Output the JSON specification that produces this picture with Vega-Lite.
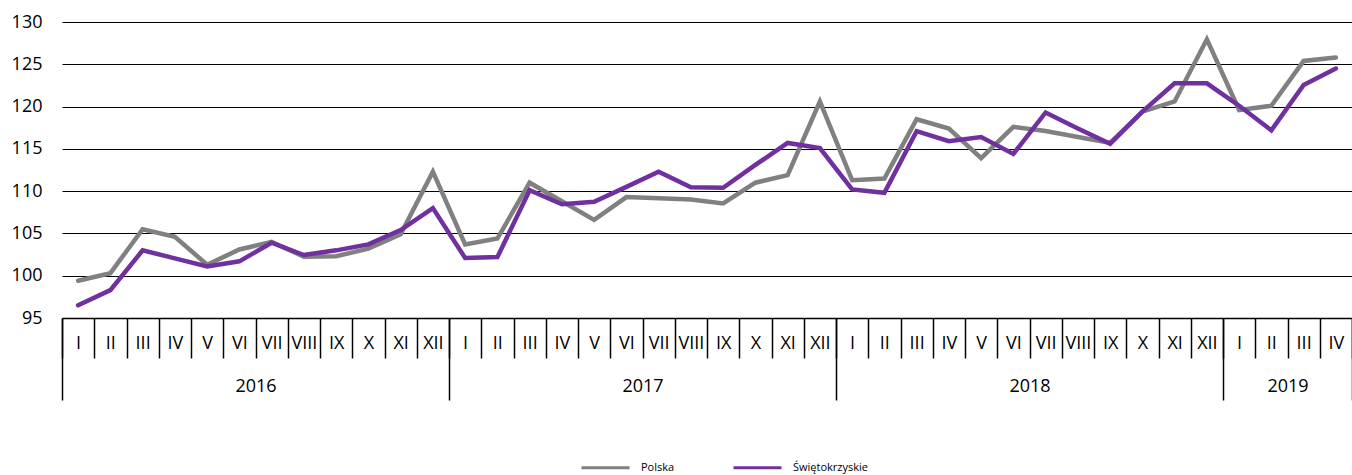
{
  "$schema": "https://vega.github.io/schema/vega-lite/v6.json",
  "autosize": "none",
  "width": 1290,
  "height": 296,
  "padding": {"left": 62, "top": 22, "right": 0, "bottom": 157},
  "config": {"view": {"stroke": null}, "font": "Open Sans"},
  "datasets": {
    "m": [
      {"t": "2016 I", "s": "Polska", "v": 99.4},
      {"t": "2016 II", "s": "Polska", "v": 100.3},
      {"t": "2016 III", "s": "Polska", "v": 105.5},
      {"t": "2016 IV", "s": "Polska", "v": 104.6},
      {"t": "2016 V", "s": "Polska", "v": 101.3},
      {"t": "2016 VI", "s": "Polska", "v": 103.1},
      {"t": "2016 VII", "s": "Polska", "v": 104.0},
      {"t": "2016 VIII", "s": "Polska", "v": 102.25},
      {"t": "2016 IX", "s": "Polska", "v": 102.3},
      {"t": "2016 X", "s": "Polska", "v": 103.2},
      {"t": "2016 XI", "s": "Polska", "v": 104.9},
      {"t": "2016 XII", "s": "Polska", "v": 112.3},
      {"t": "2017 I", "s": "Polska", "v": 103.7},
      {"t": "2017 II", "s": "Polska", "v": 104.4},
      {"t": "2017 III", "s": "Polska", "v": 111.0},
      {"t": "2017 IV", "s": "Polska", "v": 108.8},
      {"t": "2017 V", "s": "Polska", "v": 106.6},
      {"t": "2017 VI", "s": "Polska", "v": 109.3},
      {"t": "2017 VII", "s": "Polska", "v": 109.15},
      {"t": "2017 VIII", "s": "Polska", "v": 109.0},
      {"t": "2017 IX", "s": "Polska", "v": 108.55},
      {"t": "2017 X", "s": "Polska", "v": 111.0},
      {"t": "2017 XI", "s": "Polska", "v": 111.9},
      {"t": "2017 XII", "s": "Polska", "v": 120.6},
      {"t": "2018 I", "s": "Polska", "v": 111.3},
      {"t": "2018 II", "s": "Polska", "v": 111.5},
      {"t": "2018 III", "s": "Polska", "v": 118.5},
      {"t": "2018 IV", "s": "Polska", "v": 117.4},
      {"t": "2018 V", "s": "Polska", "v": 113.9},
      {"t": "2018 VI", "s": "Polska", "v": 117.6},
      {"t": "2018 VII", "s": "Polska", "v": 117.1},
      {"t": "2018 VIII", "s": "Polska", "v": 116.4},
      {"t": "2018 IX", "s": "Polska", "v": 115.7},
      {"t": "2018 X", "s": "Polska", "v": 119.4},
      {"t": "2018 XI", "s": "Polska", "v": 120.6},
      {"t": "2018 XII", "s": "Polska", "v": 127.95},
      {"t": "2019 I", "s": "Polska", "v": 119.6},
      {"t": "2019 II", "s": "Polska", "v": 120.1},
      {"t": "2019 III", "s": "Polska", "v": 125.4},
      {"t": "2019 IV", "s": "Polska", "v": 125.8},
      {"t": "2016 I", "s": "Świętokrzyskie", "v": 96.5},
      {"t": "2016 II", "s": "Świętokrzyskie", "v": 98.3},
      {"t": "2016 III", "s": "Świętokrzyskie", "v": 103.0},
      {"t": "2016 IV", "s": "Świętokrzyskie", "v": 102.05},
      {"t": "2016 V", "s": "Świętokrzyskie", "v": 101.1},
      {"t": "2016 VI", "s": "Świętokrzyskie", "v": 101.7},
      {"t": "2016 VII", "s": "Świętokrzyskie", "v": 103.9},
      {"t": "2016 VIII", "s": "Świętokrzyskie", "v": 102.45},
      {"t": "2016 IX", "s": "Świętokrzyskie", "v": 103.0},
      {"t": "2016 X", "s": "Świętokrzyskie", "v": 103.7},
      {"t": "2016 XI", "s": "Świętokrzyskie", "v": 105.4},
      {"t": "2016 XII", "s": "Świętokrzyskie", "v": 108.0},
      {"t": "2017 I", "s": "Świętokrzyskie", "v": 102.1},
      {"t": "2017 II", "s": "Świętokrzyskie", "v": 102.2},
      {"t": "2017 III", "s": "Świętokrzyskie", "v": 110.1},
      {"t": "2017 IV", "s": "Świętokrzyskie", "v": 108.45},
      {"t": "2017 V", "s": "Świętokrzyskie", "v": 108.75},
      {"t": "2017 VI", "s": "Świętokrzyskie", "v": 110.5},
      {"t": "2017 VII", "s": "Świętokrzyskie", "v": 112.3},
      {"t": "2017 VIII", "s": "Świętokrzyskie", "v": 110.45},
      {"t": "2017 IX", "s": "Świętokrzyskie", "v": 110.4},
      {"t": "2017 X", "s": "Świętokrzyskie", "v": 113.1},
      {"t": "2017 XI", "s": "Świętokrzyskie", "v": 115.7},
      {"t": "2017 XII", "s": "Świętokrzyskie", "v": 115.1},
      {"t": "2018 I", "s": "Świętokrzyskie", "v": 110.2},
      {"t": "2018 II", "s": "Świętokrzyskie", "v": 109.8},
      {"t": "2018 III", "s": "Świętokrzyskie", "v": 117.1},
      {"t": "2018 IV", "s": "Świętokrzyskie", "v": 115.9},
      {"t": "2018 V", "s": "Świętokrzyskie", "v": 116.4},
      {"t": "2018 VI", "s": "Świętokrzyskie", "v": 114.4},
      {"t": "2018 VII", "s": "Świętokrzyskie", "v": 119.3},
      {"t": "2018 VIII", "s": "Świętokrzyskie", "v": 117.4},
      {"t": "2018 IX", "s": "Świętokrzyskie", "v": 115.6},
      {"t": "2018 X", "s": "Świętokrzyskie", "v": 119.4},
      {"t": "2018 XI", "s": "Świętokrzyskie", "v": 122.75},
      {"t": "2018 XII", "s": "Świętokrzyskie", "v": 122.75},
      {"t": "2019 I", "s": "Świętokrzyskie", "v": 120.1},
      {"t": "2019 II", "s": "Świętokrzyskie", "v": 117.2},
      {"t": "2019 III", "s": "Świętokrzyskie", "v": 122.55},
      {"t": "2019 IV", "s": "Świętokrzyskie", "v": 124.5}
    ],
    "yt": [{"e": 0}, {"e": 12}, {"e": 24}, {"e": 36}, {"e": 40}],
    "yl": [{"c": 6, "y": "2016"}, {"c": 18, "y": "2017"}, {"c": 30, "y": "2018"}, {"c": 38, "y": "2019"}]
  },
  "layer": [
    {
      "data": {"name": "m"},
      "mark": {"type": "line", "strokeWidth": 4.5, "strokeJoin": "miter", "strokeCap": "round"},
      "encoding": {
        "x": {
          "field": "t", "type": "ordinal", "sort": null, "bandPosition": 0.5,
          "scale": {"type": "band", "paddingInner": 0, "paddingOuter": 0},
          "axis": {
            "title": null, "orient": "bottom", "tickBand": "extent", "tickSize": 40,
            "tickColor": "#000000", "tickWidth": 1.5, "domainColor": "#000000", "domainWidth": 1.5,
            "labelExpr": "split(datum.value, ' ')[1]", "labelAngle": 0, "labelBaseline": "middle",
            "labelPadding": -15, "labelFontSize": 18, "labelColor": "#000000", "labelOverlap": false,
            "labelBound": false, "labelFlush": false, "grid": false
          }
        },
        "y": {
          "field": "v", "type": "quantitative",
          "scale": {"domain": [95, 130], "nice": false, "zero": false},
          "axis": {
            "title": null, "values": [95, 100, 105, 110, 115, 120, 125, 130], "ticks": false, "tickSize": 0,
            "domain": false, "grid": true, "gridColor": "#000000", "gridWidth": 1, "gridOpacity": 1,
            "labelFontSize": 18, "labelColor": "#000000", "labelPadding": 20
          }
        },
        "color": {
          "field": "s", "type": "nominal",
          "scale": {"domain": ["Polska", "Świętokrzyskie"], "range": ["#808080", "#7030A0"]},
          "legend": {
            "title": null, "orient": "none", "direction": "horizontal", "legendX": 518, "legendY": 420,
            "symbolType": "stroke", "symbolSize": 2304, "symbolStrokeWidth": 3, "labelFontSize": 11,
            "labelColor": "#000000", "labelOffset": 10, "columnPadding": 52
          }
        }
      }
    },
    {
      "data": {"name": "yt"},
      "mark": {"type": "rule", "strokeOpacity": 0},
      "encoding": {
        "x": {
          "field": "e", "type": "quantitative",
          "scale": {"domain": [0, 40], "nice": false, "zero": false},
          "axis": {
            "title": null, "orient": "bottom", "values": [0, 12, 24, 36, 40], "tickSize": 82,
            "tickColor": "#000000", "tickWidth": 1.5, "labels": false, "domain": false, "grid": false
          }
        }
      }
    },
    {
      "data": {"name": "yl"},
      "mark": {"type": "rule", "strokeOpacity": 0},
      "encoding": {
        "x": {
          "field": "c", "type": "quantitative",
          "scale": {"domain": [0, 40], "nice": false, "zero": false},
          "axis": {
            "title": null, "orient": "bottom", "values": [6, 18, 30, 38], "ticks": false, "tickSize": 0,
            "domain": false, "grid": false, "labelBaseline": "middle", "labelPadding": 68,
            "labelFontSize": 18, "labelColor": "#000000", "labelOverlap": false, "labelFlush": false,
            "labelExpr": "datum.value == 6 ? '2016' : datum.value == 18 ? '2017' : datum.value == 30 ? '2018' : '2019'"
          }
        }
      }
    }
  ],
  "resolve": {"scale": {"x": "independent"}}
}
